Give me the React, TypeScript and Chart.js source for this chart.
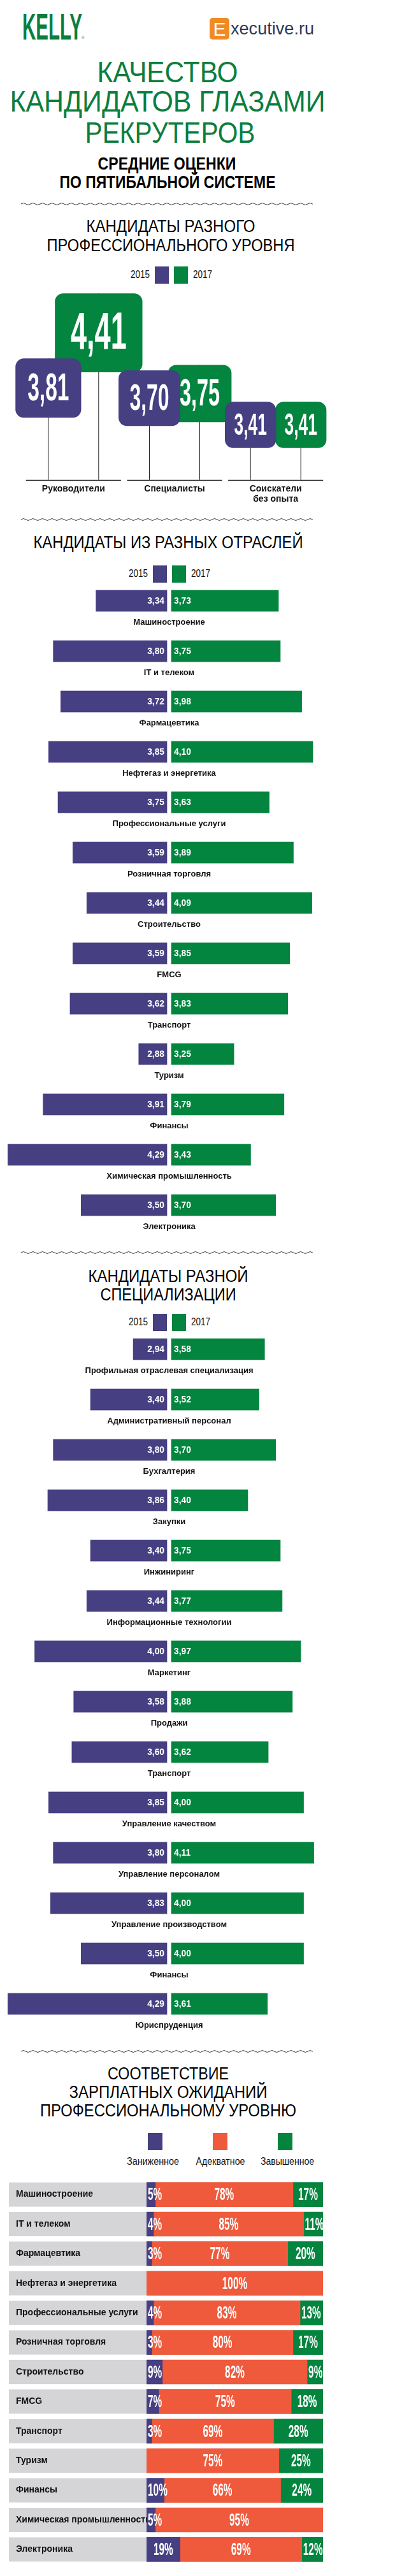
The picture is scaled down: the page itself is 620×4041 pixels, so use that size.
import React, { useEffect, useRef } from 'react';
import { Chart, registerables } from 'chart.js';

Chart.register(...registerables);

const FONT = '"Liberation Sans", Arial, Helvetica, sans-serif';
const BLUE = '#463f82';
const GREEN = '#03843f';
const ORANGE = '#ef5a3c';
const GRAY = '#d5d5d7';
const TITLE_GREEN = '#0b7e3e';

// ---------- DATA ----------
const YEARS = ['2015', '2017'];

// Section 1: professional level
const levelCategories = [['Руководители'], ['Специалисты'], ['Соискатели', 'без опыта']];
const level2015 = [3.81, 3.7, 3.41];
const level2017 = [4.41, 3.75, 3.41];

// Section 2: industries
const industryCategories = [
  'Машиностроение',
  'IT и телеком',
  'Фармацевтика',
  'Нефтегаз и энергетика',
  'Профессиональные услуги',
  'Розничная торговля',
  'Строительство',
  'FMCG',
  'Транспорт',
  'Туризм',
  'Финансы',
  'Химическая промышленность',
  'Электроника',
];
const industry2015 = [3.34, 3.8, 3.72, 3.85, 3.75, 3.59, 3.44, 3.59, 3.62, 2.88, 3.91, 4.29, 3.5];
const industry2017 = [3.73, 3.75, 3.98, 4.1, 3.63, 3.89, 4.09, 3.85, 3.83, 3.25, 3.79, 3.43, 3.7];

// Section 3: specializations
const specCategories = [
  'Профильная отраслевая специализация',
  'Административный персонал',
  'Бухгалтерия',
  'Закупки',
  'Инжиниринг',
  'Информационные технологии',
  'Маркетинг',
  'Продажи',
  'Транспорт',
  'Управление качеством',
  'Управление персоналом',
  'Управление производством',
  'Финансы',
  'Юриспруденция',
];
const spec2015 = [2.94, 3.4, 3.8, 3.86, 3.4, 3.44, 4.0, 3.58, 3.6, 3.85, 3.8, 3.83, 3.5, 4.29];
const spec2017 = [3.58, 3.52, 3.7, 3.4, 3.75, 3.77, 3.97, 3.88, 3.62, 4.0, 4.11, 4.0, 4.0, 3.61];

// Section 4: salary expectations (%)
const salaryCategories = [
  'Машиностроение',
  'IT и телеком',
  'Фармацевтика',
  'Нефтегаз и энергетика',
  'Профессиональные услуги',
  'Розничная торговля',
  'Строительство',
  'FMCG',
  'Транспорт',
  'Туризм',
  'Финансы',
  'Химическая промышленность',
  'Электроника',
];
const salaryLegend = ['Заниженное', 'Адекватное', 'Завышенное'];
const salaryLow = [5, 4, 3, null, 4, 3, 9, 7, 3, null, 10, 5, 19];
const salaryFair = [78, 85, 77, 100, 83, 80, 82, 75, 69, 75, 66, 95, 69];
const salaryHigh = [17, 11, 20, null, 13, 17, 9, 18, 28, 25, 24, null, 12];

// ---------- helpers ----------
const fmt = (v: number) => v.toFixed(2).replace('.', ',');

let measureCtx: CanvasRenderingContext2D | null = null;
function textWidth(text: string, font: string) {
  if (!measureCtx) measureCtx = document.createElement('canvas').getContext('2d');
  (measureCtx as CanvasRenderingContext2D).font = font;
  return (measureCtx as CanvasRenderingContext2D).measureText(text).width;
}

function drawText(
  ctx: CanvasRenderingContext2D,
  text: string,
  x: number,
  y: number,
  font: string,
  color: string,
  align: CanvasTextAlign,
  sx = 1
) {
  ctx.save();
  ctx.translate(x, y);
  ctx.scale(sx, 1);
  ctx.font = font;
  ctx.fillStyle = color;
  ctx.textAlign = align;
  ctx.textBaseline = 'middle';
  ctx.fillText(text, 0, 0);
  ctx.restore();
}

function ChartCanvas({ left, top, width, height, make }: any) {
  const ref = useRef<HTMLCanvasElement>(null);
  useEffect(() => {
    const chart = new Chart(ref.current as HTMLCanvasElement, make());
    return () => chart.destroy();
  }, []);
  return (
    <canvas
      ref={ref}
      width={width}
      height={height}
      style={{ position: 'absolute', left, top, width, height }}
    />
  );
}

// Text placed by cap-top; optional w = target rendered width (horizontal condensing)
function Txt({ x, cap, size, children, color = '#111', weight = 400, w, align = 'center' }: any) {
  const fontStr = `${weight} ${size}px ${FONT}`;
  const sx = w ? w / textWidth(String(children), fontStr) : 1;
  const tx = align === 'center' ? '-50%' : align === 'right' ? '-100%' : '0';
  const origin = align === 'center' ? '50% 0' : align === 'right' ? '100% 0' : '0 0';
  return (
    <div
      style={{
        position: 'absolute',
        left: x,
        top: cap - 0.15 * size,
        width: 'max-content',
        fontFamily: FONT,
        fontSize: size,
        fontWeight: weight,
        color,
        lineHeight: 1,
        whiteSpace: 'nowrap',
        transform: `translateX(${tx}) scaleX(${sx})`,
        transformOrigin: origin,
      }}
    >
      {children}
    </div>
  );
}

function Wave({ y }: { y: number }) {
  const id = `wave${y}`;
  return (
    <svg style={{ position: 'absolute', left: 33, top: y - 4 }} width={458} height={8}>
      <defs>
        <pattern id={id} width="15" height="8" patternUnits="userSpaceOnUse">
          <path d="M0 4 Q3.75 1 7.5 4 T15 4" fill="none" stroke="#333" strokeWidth="1" />
        </pattern>
      </defs>
      <rect width="458" height="8" fill={`url(#${id})`} />
    </svg>
  );
}

function Square({ x, y, w, h, color }: any) {
  return <div style={{ position: 'absolute', left: x, top: y, width: w, height: h, background: color }} />;
}

function YearLegend({ y, x0 }: { y: number; x0: number }) {
  // y = vertical middle
  return (
    <>
      <Txt x={x0 - 8} cap={y - 6} size={16} w={30} align="right">{YEARS[0]}</Txt>
      <Square x={x0} y={y - 13} w={22} h={27} color={BLUE} />
      <Square x={x0 + 30} y={y - 13} w={22} h={27} color={GREEN} />
      <Txt x={x0 + 60} cap={y - 6} size={16} w={30} align="left">{YEARS[1]}</Txt>
    </>
  );
}

// ---------- Section 1 chart ----------
const LEVEL_BOX_COLORS = [BLUE, GREEN];
const levelPlugin = {
  id: 'levelBoxes',
  beforeDatasetsDraw(chart: any) {
    const ctx = chart.ctx;
    const x = chart.scales.x;
    const bottom = chart.chartArea.bottom;
    const step = x.getPixelForValue(1) - x.getPixelForValue(0);
    ctx.save();
    ctx.strokeStyle = '#111';
    ctx.lineWidth = 1.3;
    for (let i = 0; i < chart.data.labels.length; i++) {
      const c = x.getPixelForValue(i);
      ctx.beginPath();
      ctx.moveTo(c - step * 0.47, bottom + 0.5);
      ctx.lineTo(c + step * 0.47, bottom + 0.5);
      ctx.stroke();
    }
    ctx.restore();
  },
  afterDatasetsDraw(chart: any) {
    const ctx = chart.ctx;
    for (let d = chart.data.datasets.length - 1; d >= 0; d--) {
      const meta = chart.getDatasetMeta(d);
      const ds = chart.data.datasets[d];
      meta.data.forEach((bar: any, i: number) => {
        const v = ds.data[i];
        const w = (v - 2) * 57;
        const h = w * 0.9;
        ctx.save();
        ctx.fillStyle = LEVEL_BOX_COLORS[d];
        ctx.beginPath();
        ctx.roundRect(bar.x - w / 2, bar.y, w, h, 13);
        ctx.fill();
        ctx.restore();
        drawText(ctx, fmt(v), bar.x, bar.y + h / 2 + 2, `bold ${Math.round(h * 0.66)}px ${FONT}`, '#fff', 'center', 0.55);
      });
    }
  },
};

const makeLevel = () => ({
  type: 'bar',
  data: {
    labels: levelCategories,
    datasets: [
      { label: YEARS[0], data: level2015, backgroundColor: '#1a1a1a' },
      { label: YEARS[1], data: level2017, backgroundColor: '#1a1a1a' },
    ],
  },
  options: {
    animation: false,
    responsive: false,
    layout: { padding: { left: 36, right: 18, top: 5, bottom: 5 } },
    datasets: { bar: { categoryPercentage: 0.996, barPercentage: 1, maxBarThickness: 1 } },
    plugins: { legend: { display: false }, tooltip: { enabled: false } },
    scales: {
      x: {
        grid: { display: false, drawTicks: false },
        border: { display: false },
        ticks: {
          color: '#111',
          font: { family: FONT, size: 14, weight: 'bold', lineHeight: 1.15 },
          padding: 6,
          maxRotation: 0,
          autoSkip: false,
        },
      },
      y: { display: false, min: 2.69, max: 4.5 },
    },
  },
  plugins: [levelPlugin],
});

// ---------- Sections 2 & 3: mirrored bars ----------
const BASE = 2.55;
const SPAN = 1.77;

const mirrorPlugin = {
  id: 'mirrorLabels',
  afterDatasetsDraw(chart: any) {
    const ctx = chart.ctx;
    const cats = chart.data.labels;
    const cx = (chart.chartArea.left + chart.chartArea.right) / 2;
    const blue = chart.getDatasetMeta(0);
    const green = chart.getDatasetMeta(1);
    blue.data.forEach((bar: any, i: number) => {
      const v = chart.data.datasets[0].data[i];
      drawText(ctx, fmt(v), bar.base - 7.5, bar.y, `bold 15px ${FONT}`, '#fff', 'right', 0.92);
      drawText(ctx, cats[i], cx, bar.y + 34, `bold 13px ${FONT}`, '#111', 'center');
    });
    green.data.forEach((bar: any, i: number) => {
      const v = chart.data.datasets[1].data[i];
      drawText(ctx, fmt(v), bar.base + 7.5, bar.y, `bold 15px ${FONT}`, '#fff', 'left', 0.92);
    });
  },
};

const makeMirror = (labels: string[], a: number[], b: number[]) => () => ({
  type: 'bar',
  data: {
    labels,
    datasets: [
      {
        label: YEARS[0],
        data: a,
        xAxisID: 'xl',
        backgroundColor: BLUE,
        borderColor: '#fff',
        borderWidth: { left: 0, right: 3.5, top: 0, bottom: 0 },
        borderSkipped: false,
        base: BASE,
        grouped: false,
        barThickness: 34,
      },
      {
        label: YEARS[1],
        data: b,
        xAxisID: 'xr',
        backgroundColor: GREEN,
        borderColor: '#fff',
        borderWidth: { left: 3.5, right: 0, top: 0, bottom: 0 },
        borderSkipped: false,
        base: BASE,
        grouped: false,
        barThickness: 34,
      },
    ],
  },
  options: {
    indexAxis: 'y',
    animation: false,
    responsive: false,
    layout: { padding: { left: 7.5, right: 7.5, top: 0, bottom: 14 } },
    plugins: { legend: { display: false }, tooltip: { enabled: false } },
    scales: {
      y: { display: false },
      xl: { type: 'linear', display: false, reverse: true, min: BASE - SPAN, max: BASE + SPAN },
      xr: { type: 'linear', display: false, min: BASE - SPAN, max: BASE + SPAN },
    },
  },
  plugins: [mirrorPlugin],
});

// ---------- Section 4: stacked 100% bars ----------
const SALARY_COLORS = [BLUE, ORANGE, GREEN];
const PCT_FONT = `bold 28px ${FONT}`;
const PCT_SX = 0.55;

const salaryPlugin = {
  id: 'salaryDecor',
  beforeDraw(chart: any) {
    const ctx = chart.ctx;
    const y = chart.scales.y;
    ctx.save();
    ctx.fillStyle = GRAY;
    for (let i = 0; i < chart.data.labels.length; i++) {
      const c = y.getPixelForValue(i);
      ctx.fillRect(y.left - 11, c - 19, chart.chartArea.right - y.left + 11, 38);
    }
    ctx.restore();
  },
  afterDatasetsDraw(chart: any) {
    const ctx = chart.ctx;
    chart.data.datasets.forEach((ds: any, d: number) => {
      const meta = chart.getDatasetMeta(d);
      meta.data.forEach((bar: any, i: number) => {
        const v = ds.data[i];
        if (v == null) return;
        const text = `${v}%`;
        const left = Math.min(bar.base, bar.x);
        const right = Math.max(bar.base, bar.x);
        ctx.save();
        ctx.font = PCT_FONT;
        const tw = ctx.measureText(text).width * PCT_SX;
        ctx.restore();
        if (tw + 6 <= right - left) {
          drawText(ctx, text, (left + right) / 2, bar.y + 1, PCT_FONT, '#fff', 'center', PCT_SX);
        } else {
          drawText(ctx, text, left + 2, bar.y + 1, PCT_FONT, '#fff', 'left', PCT_SX);
        }
      });
    });
  },
};

const makeSalary = () => ({
  type: 'bar',
  data: {
    labels: salaryCategories,
    datasets: [salaryLow, salaryFair, salaryHigh].map((data, k) => ({
      label: salaryLegend[k],
      data,
      backgroundColor: SALARY_COLORS[k],
      barThickness: 38,
      borderWidth: 0,
    })),
  },
  options: {
    indexAxis: 'y',
    animation: false,
    responsive: false,
    layout: { padding: { left: 25, right: 13, top: 0, bottom: 0 } },
    plugins: { legend: { display: false }, tooltip: { enabled: false } },
    scales: {
      x: { stacked: true, min: 0, max: 100, display: false },
      y: {
        stacked: true,
        grid: { display: false, drawTicks: false },
        border: { display: false },
        ticks: {
          crossAlign: 'far',
          padding: 0,
          color: '#111',
          font: { family: FONT, size: 14, weight: 'bold' },
          autoSkip: false,
        },
        afterFit: (s: any) => {
          s.width = 205;
        },
      },
    },
  },
  plugins: [salaryPlugin],
});

// ---------- App ----------
export default function App() {
  return (
    <div style={{ position: 'absolute', left: 0, top: 0, width: 620, height: 4041, background: '#fff', overflow: 'hidden' }}>
      {/* Header logos */}
      <Txt x={35} cap={22} size={58} weight={700} w={94} align="left" color={TITLE_GREEN}>KELLY</Txt>
      <Txt x={128} cap={57} size={6} align="left" color={TITLE_GREEN}>®</Txt>
      <div
        style={{
          position: 'absolute',
          left: 329,
          top: 28,
          width: 31,
          height: 34,
          borderRadius: 5,
          background: '#f08a22',
        }}
      />
      <Txt x={344.5} cap={35} size={30} color="#fff">E</Txt>
      <Txt x={362} cap={35} size={28} w={131} align="left" color="#2c3a56">xecutive.ru</Txt>

      {/* Main title */}
      <Txt x={262.5} cap={97} size={46} w={221} color={TITLE_GREEN}>КАЧЕСТВО</Txt>
      <Txt x={262.5} cap={143} size={46} w={495} color={TITLE_GREEN}>КАНДИДАТОВ ГЛАЗАМИ</Txt>
      <Txt x={266.5} cap={192} size={46} w={267} color={TITLE_GREEN}>РЕКРУТЕРОВ</Txt>
      <Txt x={261.5} cap={248} size={27} weight={700} w={217} color="#000">СРЕДНИЕ ОЦЕНКИ</Txt>
      <Txt x={262.5} cap={277} size={27} weight={700} w={339} color="#000">ПО ПЯТИБАЛЬНОЙ СИСТЕМЕ</Txt>

      <Wave y={320} />

      {/* Section 1 */}
      <Txt x={267.5} cap={346} size={27} w={265} color="#000">КАНДИДАТЫ РАЗНОГО</Txt>
      <Txt x={267.5} cap={376} size={27} w={389} color="#000">ПРОФЕССИОНАЛЬНОГО УРОВНЯ</Txt>
      <YearLegend y={431} x0={243} />
      <ChartCanvas left={0} top={440} width={530} height={362} make={makeLevel} />

      <Wave y={815} />

      {/* Section 2 */}
      <Txt x={263.5} cap={842} size={27} w={423} color="#000">КАНДИДАТЫ ИЗ РАЗНЫХ ОТРАСЛЕЙ</Txt>
      <YearLegend y={900} x0={240} />
      <ChartCanvas
        left={0}
        top={903}
        width={531}
        height={1041}
        make={makeMirror(industryCategories, industry2015, industry2017)}
      />

      <Wave y={1965} />

      {/* Section 3 */}
      <Txt x={263.5} cap={1993} size={27} w={251} color="#000">КАНДИДАТЫ РАЗНОЙ</Txt>
      <Txt x={263.5} cap={2022} size={27} w={213} color="#000">СПЕЦИАЛИЗАЦИИ</Txt>
      <YearLegend y={2074} x0={240} />
      <ChartCanvas
        left={0}
        top={2077}
        width={531}
        height={1120}
        make={makeMirror(specCategories, spec2015, spec2017)}
      />

      <Wave y={3218} />

      {/* Section 4 */}
      <Txt x={264} cap={3244} size={27} w={190} color="#000">СООТВЕТСТВИЕ</Txt>
      <Txt x={263.5} cap={3273} size={27} w={311} color="#000">ЗАРПЛАТНЫХ ОЖИДАНИЙ</Txt>
      <Txt x={264} cap={3302} size={27} w={402} color="#000">ПРОФЕССИОНАЛЬНОМУ УРОВНЮ</Txt>
      <Square x={232} y={3346} w={23} h={27} color={BLUE} />
      <Square x={334} y={3346} w={23} h={27} color={ORANGE} />
      <Square x={436} y={3346} w={23} h={27} color={GREEN} />
      <Txt x={240} cap={3385} size={16} w={82} color="#111">{salaryLegend[0]}</Txt>
      <Txt x={346} cap={3385} size={16} w={77} color="#111">{salaryLegend[1]}</Txt>
      <Txt x={451} cap={3385} size={16} w={84} color="#111">{salaryLegend[2]}</Txt>
      <ChartCanvas left={0} top={3411} width={520} height={620} make={makeSalary} />
    </div>
  );
}
